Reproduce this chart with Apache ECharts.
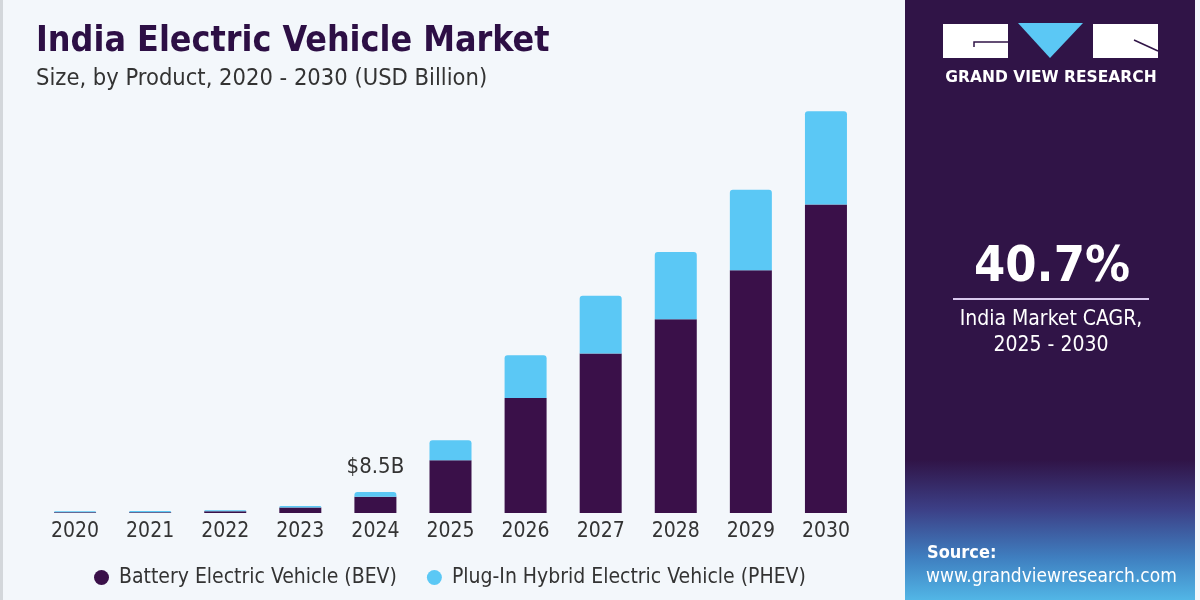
<!DOCTYPE html>
<html>
<head>
<meta charset="utf-8">
<script src="https://cdn.jsdelivr.net/npm/echarts@6/dist/echarts.min.js"></script>
<style>
  html, body { margin: 0; padding: 0; background: #f3f7fb; }
  #chart { width: 1200px; height: 600px; }
</style>
</head>
<body>
<div id="chart"></div>
<script>
// values, USD billion
const years = ['2020', '2021', '2022', '2023', '2024', '2025', '2026', '2027', '2028', '2029', '2030']
const bevValues = [0.3, 0.3, 0.7, 2.2, 6.6, 21.4, 46.7, 64.7, 78.6, 98.5, 125.2]
const phevValues = [0.4, 0.5, 0.4, 0.6, 1.9, 8.1, 17.3, 23.4, 27.3, 32.7, 37.8]
const calloutYear = '2024'
const calloutText = '$8.5B'

const FONT = '"DejaVu Sans Condensed", "DejaVu Sans", sans-serif'
const PURPLE = '#3a1049'
const BLUE = '#5bc8f5'
const PANEL = '#301447'

const chart = echarts.init(document.getElementById('chart'))

const phevData = phevValues.map((v, i) => {
    if (years[i] !== calloutYear) {
        return v
    }
    return {
        value: v,
        label: {
            show: true,
            position: 'top',
            distance: 14,
            formatter: calloutText,
            color: '#333',
            fontSize: 22,
            fontFamily: FONT,
        },
    }
})

chart.setOption({
    backgroundColor: '#f3f7fb',
    animation: false,
    title: {
        text: 'India Electric Vehicle Market',
        subtext: 'Size, by Product, 2020 - 2030 (USD Billion)',
        left: 31,
        top: 19,
        itemGap: 7,
        textStyle: {
            color: '#2d0f45',
            fontSize: 35.5,
            fontWeight: 'bold',
            fontFamily: FONT,
        },
        subtextStyle: {
            color: '#333',
            fontSize: 23.5,
            fontFamily: FONT,
        },
    },
    legend: {
        left: 89,
        top: 562,
        icon: 'circle',
        itemWidth: 25,
        itemHeight: 15,
        itemGap: 30,
        textStyle: {
            color: '#333',
            fontSize: 21,
            fontFamily: FONT,
        },
        data: ['Battery Electric Vehicle (BEV)', 'Plug-In Hybrid Electric Vehicle (PHEV)'],
    },
    grid: {
        left: 37.5,
        width: 826,
        top: 94,
        bottom: 87,
        containLabel: false,
    },
    xAxis: {
        type: 'category',
        data: years,
        axisLine: { show: false },
        axisTick: { show: false },
        axisLabel: {
            color: '#333',
            fontSize: 21,
            fontFamily: FONT,
            margin: 8,
        },
    },
    yAxis: {
        type: 'value',
        min: 0,
        max: 170,
        show: false,
    },
    series: [
        {
            name: 'Battery Electric Vehicle (BEV)',
            type: 'bar',
            stack: 'total',
            barWidth: 42,
            itemStyle: { color: PURPLE },
            data: bevValues,
        },
        {
            name: 'Plug-In Hybrid Electric Vehicle (PHEV)',
            type: 'bar',
            stack: 'total',
            barWidth: 42,
            itemStyle: { color: BLUE, borderRadius: [3, 3, 0, 0] },
            data: phevData,
        },
    ],
    graphic: [
        // left edge strip
        { type: 'rect', shape: { x: 0, y: 0, width: 3, height: 600 }, style: { fill: '#d3d7db' } },
        // right panel
        { type: 'rect', shape: { x: 905, y: 0, width: 290, height: 600 }, style: { fill: PANEL } },
        {
            type: 'rect',
            shape: { x: 905, y: 460, width: 290, height: 140 },
            style: {
                fill: new echarts.graphic.LinearGradient(0, 0, 0, 1, [
                    { offset: 0, color: PANEL },
                    { offset: 0.35, color: '#3c3f86' },
                    { offset: 0.7, color: '#3f7fc0' },
                    { offset: 1, color: '#52b6e6' },
                ]),
            },
        },
        // logo
        { type: 'rect', shape: { x: 943, y: 24, width: 65, height: 34 }, style: { fill: '#fff' } },
        { type: 'polyline', shape: { points: [[1008, 42], [974, 42], [974, 47]] }, style: { stroke: PANEL, lineWidth: 1.5, fill: null } },
        { type: 'polygon', shape: { points: [[1018, 23], [1083, 23], [1050, 58]] }, style: { fill: BLUE } },
        { type: 'rect', shape: { x: 1093, y: 24, width: 65, height: 34 }, style: { fill: '#fff' } },
        { type: 'line', shape: { x1: 1134, y1: 40, x2: 1158, y2: 51 }, style: { stroke: PANEL, lineWidth: 1.5 } },
        {
            type: 'text',
            x: 1051,
            y: 78,
            style: {
                text: 'GRAND VIEW RESEARCH',
                fill: '#fff',
                font: 'bold 15.5px "DejaVu Sans", sans-serif',
                align: 'center',
                verticalAlign: 'middle',
            },
        },
        // CAGR block
        {
            type: 'text',
            x: 1052,
            y: 268,
            style: {
                text: '40.7%',
                fill: '#fff',
                font: 'bold 50px ' + FONT,
                align: 'center',
                verticalAlign: 'middle',
            },
        },
        { type: 'line', shape: { x1: 953, y1: 299, x2: 1149, y2: 299 }, style: { stroke: '#d9c9ee', lineWidth: 2 } },
        {
            type: 'text',
            x: 1051,
            y: 320,
            style: {
                text: 'India Market CAGR,',
                fill: '#fff',
                font: '21px ' + FONT,
                align: 'center',
                verticalAlign: 'middle',
            },
        },
        {
            type: 'text',
            x: 1051,
            y: 346,
            style: {
                text: '2025 - 2030',
                fill: '#fff',
                font: '21px ' + FONT,
                align: 'center',
                verticalAlign: 'middle',
            },
        },
        // source
        {
            type: 'text',
            x: 927,
            y: 553,
            style: {
                text: 'Source:',
                fill: '#fff',
                font: 'bold 18px ' + FONT,
                verticalAlign: 'middle',
            },
        },
        {
            type: 'text',
            x: 926,
            y: 577,
            style: {
                text: 'www.grandviewresearch.com',
                fill: '#fff',
                font: '19px ' + FONT,
                verticalAlign: 'middle',
            },
        },
    ],
})
</script>
</body>
</html>
